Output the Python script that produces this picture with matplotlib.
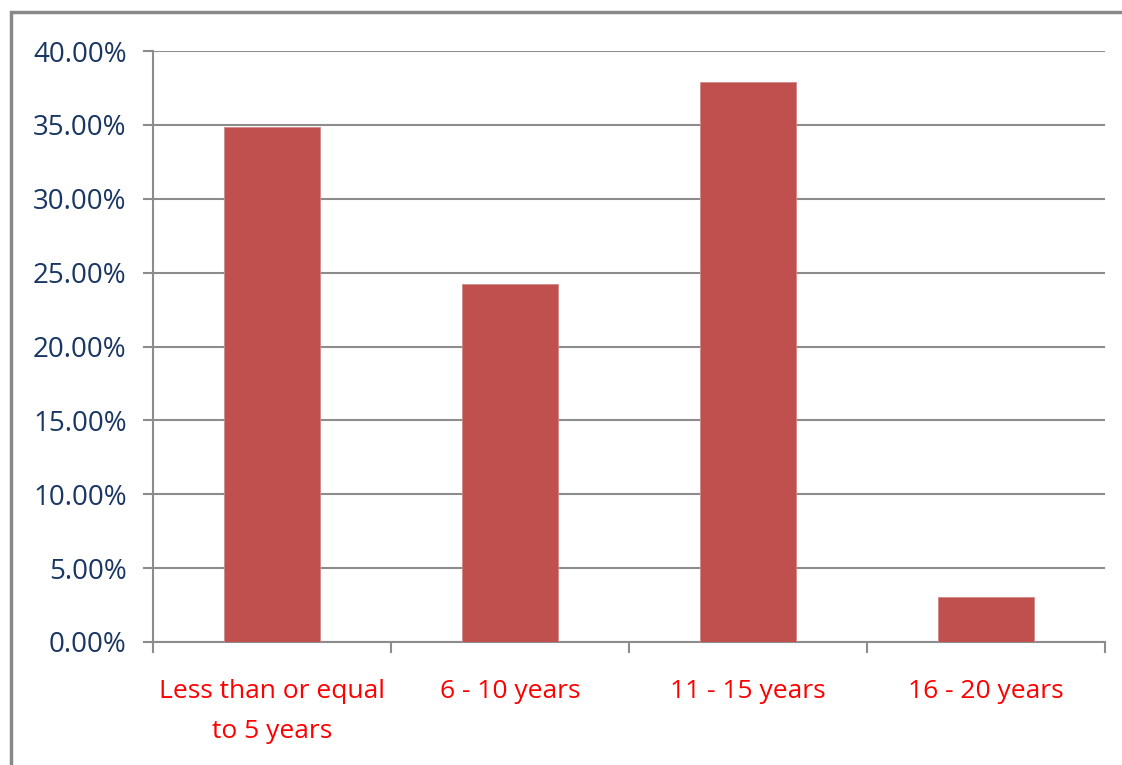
import numpy as np
import matplotlib
matplotlib.use("Agg")
import matplotlib.pyplot as plt
from matplotlib.patches import Rectangle
from matplotlib.ticker import PercentFormatter

categories = ["Less than or equal\nto 5 years", "6 - 10 years", "11 - 15 years", "16 - 20 years"]
shares = [34.85, 24.24, 37.88, 3.03]
y_ticks = [0, 5, 10, 15, 20, 25, 30, 35, 40]

plt.rcParams['font.family'] = ['Open Sans', 'DejaVu Sans']

fig = plt.figure(figsize=(11.22, 7.65), dpi=100)
ax = fig.add_axes([153 / 1122, 1 - 642 / 765, (1105 - 153) / 1122, (642 - 51) / 765])

x = np.arange(len(categories))
ax.bar(x, shares, width=0.4, color="#C0504D", edgecolor="#D08A88", linewidth=0.6, zorder=3)

ax.set_ylim(0, 40)
ax.set_xlim(-0.5, len(categories) - 0.5)
ax.set_yticks(y_ticks)
ax.yaxis.set_major_formatter(PercentFormatter(decimals=2))
ax.grid(axis="y", color="#8C8C8C", linewidth=1.5, zorder=0)

ax.set_xticks(x)
ax.set_xticklabels(categories, color="#FF0000", fontsize=19, linespacing=1.75)
ax.set_xticks(np.arange(-0.5, len(categories)), minor=True)
ax.tick_params(axis="x", which="major", length=0, pad=27)
ax.tick_params(axis="x", which="minor", length=8, width=1.5, color="#8C8C8C", direction="out")
ax.tick_params(axis="y", length=7, width=1.5, color="#8C8C8C", pad=12, labelsize=20, labelcolor="#1A3663")

for side in ["top", "right"]:
    ax.spines[side].set_visible(False)
ax.spines["left"].set_color("#8C8C8C")
ax.spines["left"].set_linewidth(1.5)
ax.spines["bottom"].set_color("#8C8C8C")
ax.spines["bottom"].set_linewidth(1.5)

# outer frame of the original chart, cut off on the right and bottom
fig.patches.append(Rectangle((10.5 / 1122, -0.1), 1.2, 1.1 - 12 / 765, transform=fig.transFigure,
                             fill=False, edgecolor="#888888", linewidth=2.5))

fig.savefig("out.png", dpi=100)
